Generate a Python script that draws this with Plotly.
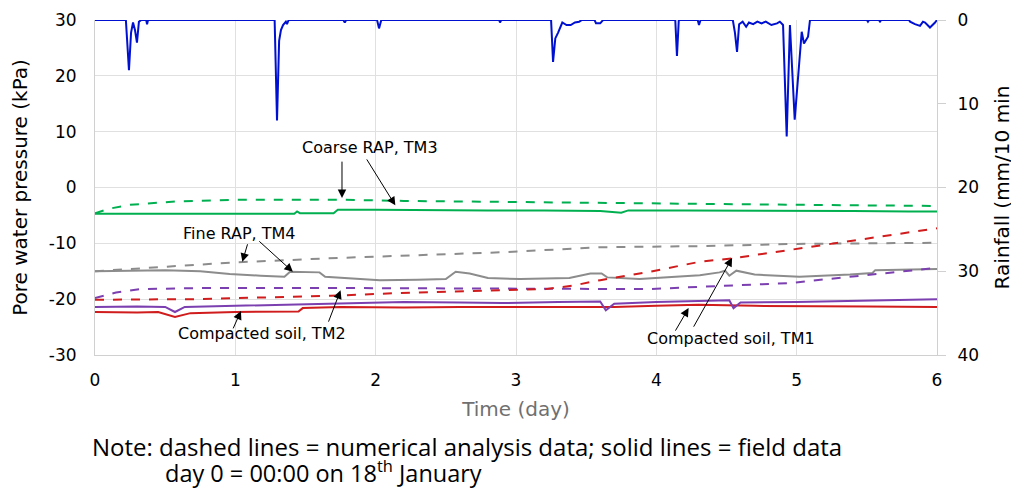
import plotly.graph_objects as go

# Rainfall (mm / 10 min), plotted on a reversed right axis
rain_day = [0, 0.22, 0.242, 0.257, 0.271, 0.285, 0.299, 0.313, 0.33, 0.365, 0.371, 0.378,
            1.28, 1.297, 1.312, 1.325, 1.34, 1.36, 1.368, 1.38,
            1.77, 1.78, 1.79, 2.01, 2.024, 2.04, 2.88, 2.886, 2.895,
            3.25, 3.264, 3.28, 3.30, 3.33, 3.36, 3.39, 3.42, 3.45, 3.47,
            3.56, 3.57, 3.60, 3.62,
            4.135, 4.147, 4.16, 4.295, 4.304, 4.315,
            4.545, 4.56, 4.575, 4.59, 4.615, 4.64, 4.66, 4.69, 4.72, 4.75, 4.78, 4.82, 4.86, 4.88,
            4.903, 4.929, 4.952, 4.986, 5.01, 5.036, 5.052, 5.081, 5.095,
            5.50, 5.508, 5.516, 5.585, 5.594, 5.603, 5.80, 5.808, 5.843, 5.879, 5.90, 5.915, 5.95, 5.986, 6.0]
rain_mm = [0, 0, 6.0, 1.5, 0.3, 1.2, 2.7, 0.2, 0, 0, 0.5, 0,
           0, 12.0, 2.5, 1.2, 0.6, 0.2, 0.5, 0,
           0, 0.3, 0, 0, 1.0, 0, 0, 0.3, 0,
           0, 5.0, 2.2, 1.5, 0.3, 0.6, 0.6, 0.3, 0.2, 0,
           0, 0.4, 0.4, 0,
           0, 4.3, 0, 0, 0.6, 0,
           0, 1.5, 3.8, 0.5, 0.2, 0.8, 0.3, 0.5, 0.2, 0.4, 0.2, 0.6, 0.4, 0.2,
           0.6, 13.9, 0.6, 11.9, 6.8, 1.4, 2.8, 2.0, 0,
           0, 0.2, 0, 0, 0.2, 0, 0, 0.2, 0.5, 0.7, 0.2, 0.3, 0.9, 0.3, 0]

# Coarse RAP, TM3
tm3_num_day = [0, 0.1, 0.25, 0.57, 1.0, 1.75, 2.2, 2.9, 3.6, 4.3, 5.0, 6.0]
tm3_num = [-4.6, -3.8, -3.1, -2.5, -2.2, -2.2, -2.4, -2.6, -2.8, -3.0, -3.1, -3.3]
tm3_fld_day = [0, 0.3, 0.6, 0.9, 1.2, 1.42, 1.44, 1.46, 1.7, 1.73, 2.0, 2.4, 2.8, 3.2,
               3.6, 3.75, 3.8, 4.2, 4.6, 5.0, 5.4, 5.8, 6.0]
tm3_fld = [-4.7, -4.7, -4.8, -4.7, -4.7, -4.7, -4.3, -4.6, -4.6, -4.0, -4.0, -4.1, -4.1, -4.1,
           -4.2, -4.5, -4.1, -4.1, -4.1, -4.2, -4.2, -4.3, -4.3]

# Fine RAP, TM4
tm4_num_day = [0, 0.25, 0.5, 1.0, 1.75, 2.9, 3.6, 4.3, 5.0, 6.0]
tm4_num = [-15.0, -14.6, -14.1, -13.4, -12.6, -11.6, -10.7, -10.5, -10.1, -9.9]
tm4_fld_day = [0, 0.25, 0.5, 0.75, 0.96, 1.18, 1.35, 1.39, 1.6, 1.64, 2.03, 2.3, 2.5, 2.57,
               2.67, 2.8, 3.03, 3.38, 3.53, 3.61, 3.65, 3.88, 4.03, 4.31, 4.45, 4.49,
               4.52, 4.57, 4.7, 5.02, 5.38, 5.54, 5.56, 6.0]
tm4_fld = [-15.0, -14.9, -14.8, -15.0, -15.5, -15.8, -16.0, -15.1, -15.2, -16.0, -16.6, -16.5,
           -16.4, -15.1, -15.4, -16.2, -16.4, -16.2, -15.4, -15.4, -16.1, -16.4, -16.2, -15.7,
           -15.2, -14.9, -15.8, -14.9, -15.6, -16.0, -15.6, -15.3, -14.8, -14.6]

# Compacted soil, TM1
tm1_num_day = [0, 0.7, 1.68, 2.17, 2.89, 3.21, 3.4, 3.6, 3.95, 4.31, 4.54, 5.02, 5.25, 6.0]
tm1_num = [-20.1, -20.0, -19.4, -18.9, -18.4, -18.2, -17.6, -16.6, -15.1, -13.3, -12.7, -10.9, -10.1, -7.3]
tm1_fld_day = [0, 0.3, 0.45, 0.57, 0.68, 1.0, 1.45, 1.48, 1.75, 2.2, 2.6, 2.9, 3.3, 3.7,
               4.0, 4.3, 4.7, 5.0, 5.5, 6.0]
tm1_fld = [-22.3, -22.4, -22.3, -23.2, -22.5, -22.3, -22.2, -21.6, -21.4, -21.5, -21.4, -21.4,
           -21.3, -21.4, -21.2, -21.0, -21.2, -21.2, -21.3, -21.4]

# Compacted soil, TM2
tm2_num_day = [0, 0.15, 0.32, 0.75, 1.7, 2.9, 3.95, 4.3, 4.97, 5.22, 5.69, 6.0]
tm2_num = [-19.8, -18.8, -18.2, -18.0, -18.0, -18.1, -18.2, -17.8, -17.1, -16.4, -15.2, -14.4]
tm2_fld_day = [0, 0.3, 0.5, 0.57, 0.64, 1.0, 1.5, 1.75, 2.2, 2.6, 2.9, 3.3, 3.6, 3.64, 3.7,
               4.0, 4.3, 4.52, 4.55, 4.6, 5.0, 5.5, 6.0]
tm2_fld = [-21.4, -21.3, -21.4, -22.3, -21.4, -21.2, -20.9, -20.7, -20.5, -20.6, -20.7, -20.5,
           -20.4, -22.0, -20.8, -20.5, -20.3, -20.2, -21.6, -20.6, -20.5, -20.3, -20.0]

# axis ticks
kpa_ticks = [-30, -20, -10, 0, 10, 20, 30]
rain_ticks = [0, 10, 20, 30, 40]

GREEN = "#00b050"
GREY = "#8c8c8c"
RED = "#d01c1c"
PURPLE = "#7b3fb0"
BLUE = "#0010d0"

fig = go.Figure()

series = [
    (tm3_num_day, tm3_num, GREEN, "dash"),
    (tm3_fld_day, tm3_fld, GREEN, "solid"),
    (tm4_num_day, tm4_num, GREY, "dash"),
    (tm4_fld_day, tm4_fld, GREY, "solid"),
    (tm2_num_day, tm2_num, PURPLE, "dash"),
    (tm1_num_day, tm1_num, RED, "dash"),
    (tm1_fld_day, tm1_fld, RED, "solid"),
    (tm2_fld_day, tm2_fld, PURPLE, "solid"),
]
for xs, ys, col, dash in series:
    fig.add_trace(go.Scatter(x=xs, y=ys, mode="lines",
                             line=dict(color=col, width=2, dash=dash), showlegend=False))

fig.add_trace(go.Scatter(x=rain_day, y=rain_mm, mode="lines", yaxis="y2",
                         line=dict(color=BLUE, width=2), showlegend=False))

# labels with arrows: (text, text pos, [(tail, head), ...])
labels = [
    ("Coarse RAP, TM3", (1.96, 7.1), [((1.76, 4.9), (1.76, -1.9)), ((1.93, 5.3), (2.14, -3.2))]),
    ("Fine RAP, TM4", (1.03, -8.2), [((1.09, -9.9), (1.05, -13.3)), ((1.16, -9.4), (1.41, -15.1))]),
    ("Compacted soil, TM2", (1.19, -26.1), [((0.98, -25.5), (1.04, -22.1)), ((1.66, -24.3), (1.75, -18.4))]),
    ("Compacted soil, TM1", (4.53, -27.0), [((4.13, -25.9), (4.23, -21.6)), ((4.26, -25.2), (4.54, -12.6))]),
]
for text, (tx, ty), arrows in labels:
    fig.add_annotation(x=tx, y=ty, xref="x", yref="y", text=text, showarrow=False,
                       font=dict(family="DejaVu Sans", size=16, color="black"))
    for (ax, ay), (hx, hy) in arrows:
        fig.add_annotation(x=hx, y=hy, ax=ax, ay=ay, xref="x", yref="y", axref="x", ayref="y",
                           text="", showarrow=True, arrowhead=2, arrowsize=1.7,
                           arrowwidth=1, arrowcolor="black")

# note under the chart (paper coords; plot area is 842 x 335 px)
fig.add_annotation(x=-0.006, y=-0.273, xref="paper", yref="paper", xanchor="left", yanchor="middle",
                   text="Note: dashed lines = numerical analysis data; solid lines = field data",
                   showarrow=False, font=dict(family="Open Sans", size=24, color="black"))
fig.add_annotation(x=0.081, y=-0.349, xref="paper", yref="paper", xanchor="left", yanchor="middle",
                   text="day 0 = 00:00 on 18<sup>th</sup> January",
                   showarrow=False, font=dict(family="Open Sans", size=23.5, color="black"))

# page body has an 8 px default margin, so the figure is 8 px smaller than the window
fig.update_layout(
    width=1011, height=481,
    margin=dict(l=87, r=82, t=12, b=134),
    plot_bgcolor="white", paper_bgcolor="white",
    font=dict(family="DejaVu Sans", size=17, color="black"),
    xaxis=dict(range=[0, 6], dtick=1, showgrid=True, gridcolor="#e0e0e0",
               showline=True, linecolor="#d0d0d0", linewidth=1, zeroline=False,
               ticks="", ticklabelstandoff=10, automargin=False,
               title=dict(text="Time (day)", font=dict(size=20, color="#707070"), standoff=12)),
    yaxis=dict(range=[-30, 30], tickvals=kpa_ticks, ticktext=[str(v) for v in kpa_ticks],
               showgrid=True, gridcolor="#e0e0e0", automargin=False,
               showline=True, linecolor="#d0d0d0", zeroline=False, ticks="", ticklabelstandoff=14,
               title=dict(text="Pore water pressure (kPa)", font=dict(size=20), standoff=16)),
    yaxis2=dict(range=[40, 0], tickvals=rain_ticks, overlaying="y", side="right", showgrid=False,
                showline=True, linecolor="#d0d0d0", zeroline=False, automargin=False,
                ticks="outside", ticklen=8, tickcolor="#d0d0d0", ticklabelstandoff=8,
                title=dict(text="Rainfall (mm/10 min", font=dict(size=20), standoff=16)),
)

fig.write_html("out.html")
